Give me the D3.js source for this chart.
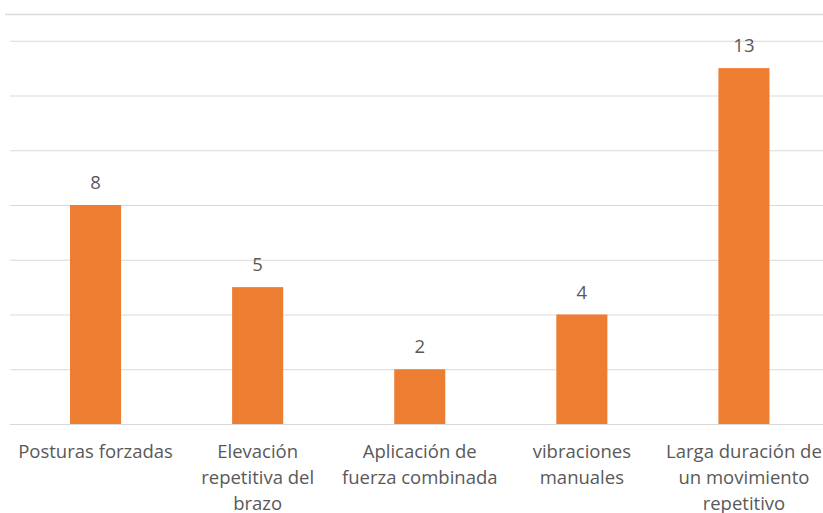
<!DOCTYPE html>
<html>
<head>
<meta charset="utf-8">
<script src="https://cdn.jsdelivr.net/npm/d3@7"></script>
<style>
  html, body { margin: 0; padding: 0; background: #fff; }
  svg { display: block; }
</style>
</head>
<body>
<svg id="chart" width="823" height="513"></svg>
<script>
// Factores de riesgo y número de casos
const categories = [
  "Posturas forzadas",
  "Elevación repetitiva del brazo",
  "Aplicación de fuerza combinada",
  "vibraciones manuales",
  "Larga duración de un movimiento repetitivo"
];
const categoryLines = [
  ["Posturas forzadas"],
  ["Elevación", "repetitiva del", "brazo"],
  ["Aplicación de", "fuerza combinada"],
  ["vibraciones", "manuales"],
  ["Larga duración de", "un movimiento", "repetitivo"]
];
const values = [8, 5, 2, 4, 13];
const yTicks = [0, 2, 4, 6, 8, 10, 12, 14];

const svg = d3.select("#chart");
const font = "'Open Sans', 'Liberation Sans', sans-serif";
const textColor = "#595959";
const gridColor = "#d9d9d9";
const barColor = "#ed7d31";
const fontSize = 18.5;

const x = d3.scaleBand()
  .domain(categories)
  .range([14.5, 825])
  .paddingInner(0.685)
  .paddingOuter(0.3425);

const y = d3.scaleLinear()
  .domain([0, 14])
  .range([424, 40.75]);

// top border of the plot frame
svg.append("line")
  .attr("x1", 5).attr("x2", 823)
  .attr("y1", 14.5).attr("y2", 14.5)
  .attr("stroke", gridColor).attr("stroke-width", 1.5);

// horizontal gridlines
const yAxis = d3.axisLeft(y).tickValues(yTicks).tickSize(-813).tickFormat("");
const gAxis = svg.append("g").attr("transform", "translate(10,0)").call(yAxis);
gAxis.select(".domain").remove();
gAxis.selectAll(".tick line").attr("stroke", gridColor).attr("stroke-width", 1.2);

// bars
svg.append("g").selectAll("rect")
  .data(values)
  .join("rect")
  .attr("x", (d, i) => x(categories[i]))
  .attr("width", x.bandwidth())
  .attr("y", d => y(d))
  .attr("height", d => y(0) - y(d))
  .attr("fill", barColor);

// value labels
svg.append("g").selectAll("text")
  .data(values)
  .join("text")
  .attr("x", (d, i) => x(categories[i]) + x.bandwidth() / 2)
  .attr("y", d => y(d) - 16)
  .attr("text-anchor", "middle")
  .attr("font-family", font)
  .attr("font-size", fontSize)
  .attr("fill", textColor)
  .text(d => d);

// category labels
const labels = svg.append("g").selectAll("text")
  .data(categoryLines)
  .join("text")
  .attr("text-anchor", "middle")
  .attr("font-family", font)
  .attr("font-size", fontSize)
  .attr("fill", textColor)
  .attr("transform", (d, i) => `translate(${x(categories[i]) + x.bandwidth() / 2},458)`);
labels.selectAll("tspan")
  .data(d => d)
  .join("tspan")
  .attr("x", 0)
  .attr("y", (d, j) => j * 26)
  .text(d => d);
</script>
</body>
</html>
